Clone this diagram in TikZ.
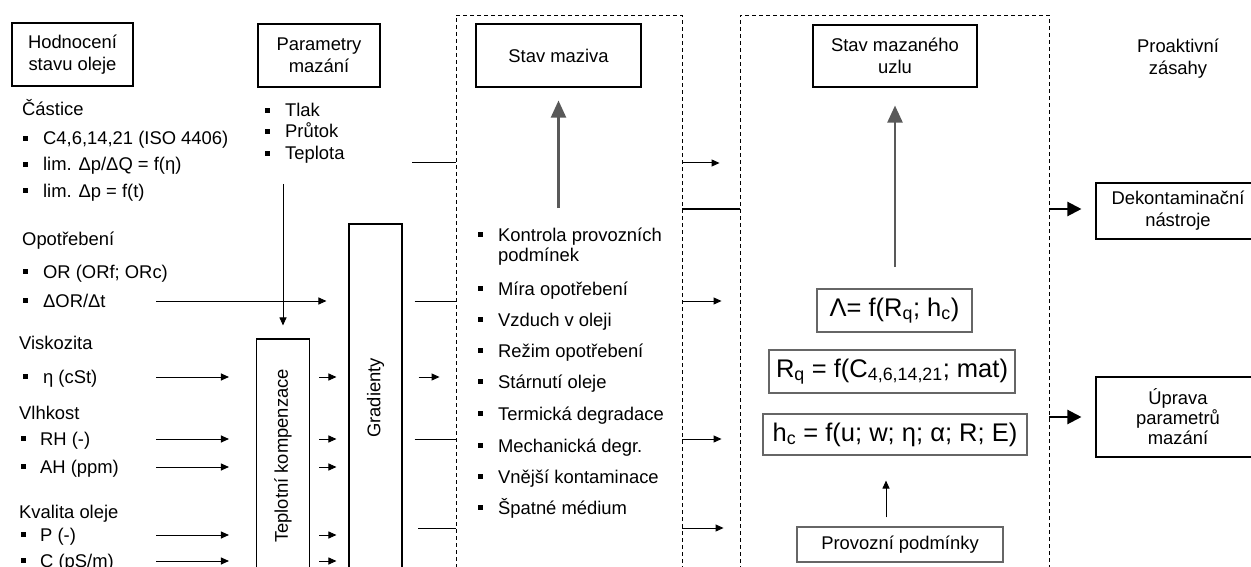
\documentclass[tikz,border=0pt]{standalone}
\usepackage{fontspec}
\setmainfont{Liberation Sans}
\usetikzlibrary{arrows.meta}
\newcommand\bu{\rule[0.2em]{0.28em}{0.28em}}
\begin{document}
\begin{tikzpicture}[x=1pt,y=-1pt,
  font=\fontsize{18.4}{22}\selectfont,
  box/.style={draw, line width=1.1pt, align=center, inner sep=0pt},
  fbox/.style={draw=black!60, line width=1.1pt, inner sep=0pt, font=\fontsize{25.5}{30}\selectfont},
  txt/.style={anchor=base west, inner sep=0pt},
  dbox/.style={draw, dash pattern=on 4pt off 3pt, line width=0.9pt, inner sep=0pt},
  arr/.style={-{Triangle[length=8pt,width=7pt]}, line width=1pt},
  ln/.style={line width=1pt},
  bigarr/.style={-{Triangle[length=14pt,width=14pt]}, line width=2.2pt},
  grayarr/.style={draw=black!65, line width=2.2pt, -{Triangle[length=17pt,width=15pt]}},
]
\useasboundingbox (0,0) rectangle (1251,567);
\clip (0,0) rectangle (1251,567);

% header boxes
\node[box, minimum width=121pt, minimum height=63pt] (hod) at (72.5,54.5) {Hodnocení\\stavu oleje};
\node[box, minimum width=122pt, minimum height=63pt] (par) at (319,55.5) {Parametry\\mazání};
\node[dbox, minimum width=226pt, minimum height=560pt] (db1) at (569,295) {};
\node[dbox, minimum width=309pt, minimum height=560pt] (db2) at (894.5,295) {};
\node[box, minimum width=165pt, minimum height=63pt] (sm) at (558.5,55.5) {Stav maziva};
\node[box, minimum width=164pt, minimum height=62pt] (smu) at (895,56) {Stav mazaného\\uzlu};
\node[align=center, inner sep=0pt] (pro) at (1178,59) {Proaktivní\\zásahy};
\node[box, minimum width=164pt, minimum height=56pt] (dek) at (1178,211) {Dekontaminační\\nástroje};
\node[box, minimum width=164pt, minimum height=80pt, font=\fontsize{18.4}{20}\selectfont] (upr) at (1178,417) {Úprava\\parametrů\\mazání};

% formula boxes
\node[fbox, minimum width=155pt, minimum height=43pt] (lam) at (894.5,310.5) {Λ= f(R\textsubscript{q}; h\textsubscript{c})};
\node[fbox, minimum width=246pt, minimum height=43pt] (rq) at (892,371.5) {R\textsubscript{q} = f(C\textsubscript{4,6,14,21}; mat)};
\node[fbox, minimum width=264pt, minimum height=41pt] (hc) at (895,434.5) {h\textsubscript{c} = f(u; w; η; α; R; E)};
\node[box, draw=black!60, minimum width=206pt, minimum height=35pt] (prov) at (900,544.5) {Provozní podmínky};

% vertical boxes
\node[box, minimum width=53pt, minimum height=234pt] (tk) at (283,456) {};
\node[rotate=90, inner sep=0pt] (tkl) at (tk.center) {Teplotní kompenzace};
\node[box, minimum width=53pt, minimum height=348pt] (gr) at (375.5,398) {};
\node[rotate=90, inner sep=0pt] (grl) at (gr.center) {Gradienty};

% left column
\node[txt] (cas) at (22,116) {Částice};
\node[txt] (c4) at (22.5,145) {\bu\hspace{15.3pt}C4,6,14,21 (ISO 4406)};
\node[txt] (lim1) at (22.5,171) {\bu\hspace{15.3pt}lim. Δp/ΔQ = f(η)};
\node[txt] (lim2) at (22.5,197) {\bu\hspace{15.3pt}lim. Δp = f(t)};
\node[txt] (opo) at (22,245) {Opotřebení};
\node[txt] (or) at (22.5,278) {\bu\hspace{15.3pt}OR (ORf; ORc)};
\node[txt] (dor) at (22.5,307) {\bu\hspace{15.3pt}ΔOR/Δt};
\node[txt] (visk) at (19,349) {Viskozita};
\node[txt] (eta) at (22.5,383) {\bu\hspace{15.3pt}η (cSt)};
\node[txt] (vlh) at (19,419) {Vlhkost};
\node[txt] (rh) at (20.5,445) {\bu\hspace{14.3pt}RH (-)};
\node[txt] (ah) at (20.5,473) {\bu\hspace{14.3pt}AH (ppm)};
\node[txt] (kva) at (19,518) {Kvalita oleje};
\node[txt] (p) at (20.5,541) {\bu\hspace{14.3pt}P (-)};
\node[txt] (c) at (20.5,567) {\bu\hspace{14.3pt}C (pS/m)};

% parametry list
\node[txt] (tlak) at (264.5,117) {\bu\hspace{15.3pt}Tlak};
\node[txt] (prut) at (264.5,138) {\bu\hspace{15.3pt}Průtok};
\node[txt] (tepl) at (264.5,160) {\bu\hspace{15.3pt}Teplota};

% stav maziva list
\node[txt] (k1) at (477.5,241) {\bu\hspace{15.3pt}Kontrola provozních};
\node[txt] (k2) at (498,261) {podmínek};
\node[txt] (k3) at (477.5,295) {\bu\hspace{15.3pt}Míra opotřebení};
\node[txt] (k4) at (477.5,326) {\bu\hspace{15.3pt}Vzduch v oleji};
\node[txt] (k5) at (477.5,357) {\bu\hspace{15.3pt}Režim opotřebení};
\node[txt] (k6) at (477.5,388) {\bu\hspace{15.3pt}Stárnutí oleje};
\node[txt] (k7) at (477.5,420) {\bu\hspace{15.3pt}Termická degradace};
\node[txt] (k8) at (477.5,452) {\bu\hspace{15.3pt}Mechanická degr.};
\node[txt] (k9) at (477.5,483) {\bu\hspace{15.3pt}Vnější kontaminace};
\node[txt] (k10) at (477.5,514) {\bu\hspace{15.3pt}Špatné médium};

% coordinates
\coordinate (tdS) at (283,184);
\coordinate (dorS) at (156,301);
\coordinate (tl) at (412,163);
\coordinate (c528) at (418,528);
\coordinate (mid) at (700,209);
\coordinate (sx) at (886,500);
\coordinate (g1) at (558.5,208);
\coordinate (g2) at (895,267);

% connectors
\draw[arr] (tdS) -- ([yshift=13pt]tk.north);
\draw[arr] (dorS) -- ([xshift=-22pt]gr.west |- dorS);
\foreach \yy in {377,439,467,535,561}{
  \coordinate (in\yy) at (156,\yy);
  \draw[arr] (in\yy) -- ([xshift=-27pt]tk.west |- in\yy);
  \draw[arr] ([xshift=9pt]tk.east |- in\yy) -- ([xshift=-12pt]gr.west |- in\yy);
}
\draw[arr] ([xshift=16pt]gr.east |- in377) -- ([xshift=-16pt]db1.west |- in377);
\draw[ln] ([xshift=12pt]gr.east |- dorS) -- (db1.west |- dorS);
\draw[ln] ([xshift=12pt]gr.east |- in439) -- (db1.west |- in439);
\draw[ln] (c528) -- (db1.west |- c528);
\draw[ln] (tl) -- (db1.west |- tl);

\draw[arr] (db1.east |- tl) -- ([xshift=-20pt]db2.west |- tl);
\draw[arr] (db1.east |- dorS) -- ([xshift=-18pt]db2.west |- dorS);
\draw[arr] (db1.east |- in439) -- ([xshift=-18pt]db2.west |- in439);
\draw[arr] (db1.east |- c528) -- ([xshift=-16pt]db2.west |- c528);
\draw[line width=2pt] (db1.east |- mid) -- (db2.west |- mid);

\draw[bigarr] (db2.east |- mid) -- ([xshift=-14pt]dek.west |- mid);
\draw[bigarr] (db2.east |- upr) -- ([xshift=-14pt]upr.west);

\draw[grayarr] (g1) -- ([yshift=-13pt]sm.south);
\draw[grayarr] (g2) -- ([yshift=-18pt]smu.south);
\draw[arr] ([yshift=9pt]prov.north -| sx) -- ([yshift=-25pt]hc.south -| sx);
\end{tikzpicture}
\end{document}
